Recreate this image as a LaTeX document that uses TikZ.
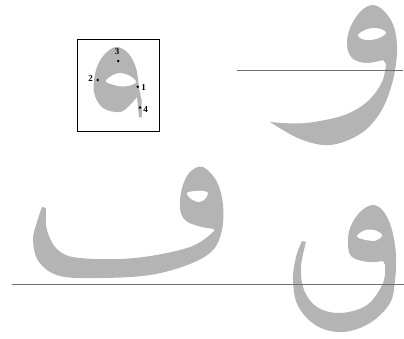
\documentclass[tikz,border=0pt]{standalone}
\usepackage{fontspec}
\setmainfont{Liberation Serif}
\definecolor{inkgray}{HTML}{B4B4B4}
\definecolor{rulegray}{HTML}{6E6E6E}
\tikzset{
  ink/.style={fill=inkgray},
  hole/.style={fill=white},
  baseline rule/.style={draw=rulegray, line width=0.9pt},
  dotpt/.style={circle, fill=black, inner sep=0pt, minimum size=2.8pt},
  numlabel/.style={font=\fontsize{9}{9}\selectfont\bfseries, inner sep=0.5pt},
  framebox/.style={draw=black, line width=0.8pt}
}
\begin{document}
\begin{tikzpicture}[x=1pt,y=-1pt]
\useasboundingbox (0,0) rectangle (404,339);
% ---------- inset ----------
\draw[framebox] (77.5,39) rectangle (159,131);
\fill[ink] plot[smooth, tension=0.6] coordinates {(137,97) (130,105) (120,112) (103,108) (94,92) (96,70) (104,55) (116,47) (128,53) (136,68) (139,88)}
  -- (141.5,100) -- (142,117) -- (139,117.5) -- cycle;
\fill[hole] plot[smooth cycle, tension=0.6] coordinates {(106,81.5) (113,75) (121,73) (130,76) (136,82) (128,86) (118,86)};
\node[dotpt] (p1) at (137.7,86.7) {};
\node[dotpt] (p2) at (97.7,80) {};
\node[dotpt] (p3) at (118.3,61) {};
\node[dotpt] (p4) at (140,107.5) {};
\node[numlabel] (l1) at (143.5,87.5) {1};
\node[numlabel] (l2) at (90.5,78.5) {2};
\node[numlabel] (l3) at (117,51.5) {3};
\node[numlabel] (l4) at (145.5,110) {4};
% ---------- top right waw ----------
\fill[ink] plot[smooth, tension=0.6] coordinates {(270,122) (300,139) (330,145) (360,134) (380,113) (392,84) (397,52) (394,27) (384,11) (372,5) (360,12) (350,28) (347,45) (352,58) (366,63) (383,60)}
  -- plot[smooth, tension=0.6] coordinates {(386,64) (382,82) (368,101) (347,114) (320,121) (297,123.5) (270,122)} -- cycle;
\fill[hole] plot[smooth cycle, tension=0.6] coordinates {(358,35) (365,30) (373,28) (381,29) (386,33) (379,38) (370,40) (362,39)};
\coordinate (t1) at (237,70);
\coordinate (t2) at (403,70);
\draw[baseline rule] (t1) -- (t2);
% ---------- bottom left fa ----------
\fill[ink] plot[smooth, tension=0.6] coordinates {(42,207) (37,222) (33,240) (39,262) (60,276) (100,278) (150,275) (190,264) (213,250) (222,230) (223,205) (217,182) (203,167) (190,172) (182,188) (180,208) (185,220) (198,226) (214,229)}
  -- plot[smooth, tension=0.6] coordinates {(214,231) (190,247) (135,258) (80,258) (58,250) (47,230) (46,208)} -- cycle;
\fill[hole] plot[smooth cycle, tension=0.6] coordinates {(187,193) (195,191) (203,191) (208,193) (205,199) (199,202) (191,199)};
% ---------- bottom right qaf ----------
\fill[ink] plot[smooth, tension=0.6] coordinates {(302,241) (296,257) (293,280) (298,306) (317,326) (343,332) (370,323) (390,303) (395,280) (396,255) (392,230) (384,212) (373,205) (360,212) (350,228) (348,245) (352,257) (368,262) (383,261)}
  -- plot[smooth, tension=0.6] coordinates {(385,265) (383,283) (367,305) (340,313) (317,307) (304,290) (301,267) (306,242)} -- cycle;
\fill[hole] plot[smooth cycle, tension=0.6] coordinates {(357,236.5) (363,231) (370,229.5) (377,231) (382,235.5) (376,240.5) (366,240)};
\coordinate (b1) at (12,284);
\coordinate (b2) at (404,284);
\draw[baseline rule] (b1) -- (b2);
\end{tikzpicture}
\end{document}
